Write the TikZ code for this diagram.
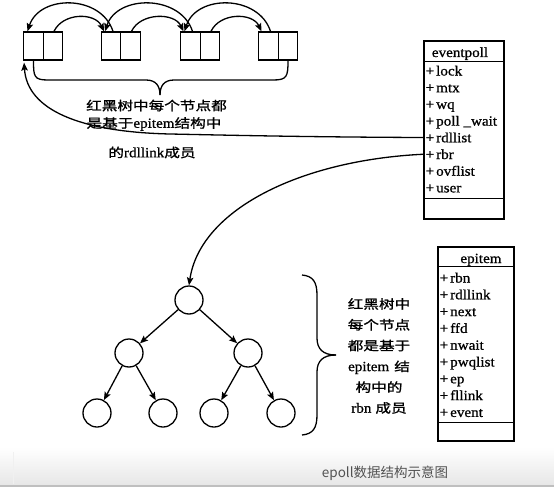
\documentclass[tikz,border=0pt]{standalone}
\usepackage{fontspec}
\setmainfont[FakeStretch=1.08,FakeBold=0.8]{Liberation Serif}
\newfontfamily\zhfont[FakeStretch=1.25,FakeBold=1.2]{Noto Sans CJK SC}
\newfontfamily\capfont{Noto Sans CJK SC}
\usetikzlibrary{arrows.meta,calc}
\begin{document}
\begin{tikzpicture}[x=1pt,y=-1pt,line width=1.3pt,
  cell/.style={draw,minimum width=19.5pt,minimum height=28pt,inner sep=0pt},
  tnode/.style={draw,circle,minimum size=28pt,inner sep=0pt},
  arr/.style={-{Stealth[length=8pt,width=6.5pt,inset=1.5pt]}},
  item/.style={anchor=base west,inner xsep=1pt,inner ysep=0.5pt,font=\fontsize{14}{14}\selectfont},
  ttl/.style={anchor=base,inner sep=1pt,font=\fontsize{14}{14}\selectfont},
  zh/.style={inner sep=1pt,font=\zhfont\fontsize{12.5}{14}\selectfont},
  structbox/.style={draw,inner sep=0pt}
]
\useasboundingbox (0,0) rectangle (554,487);
% bottom band
\shade[top color=white,bottom color=black!10] (0,447) rectangle (554,487);
\draw[black!25,line width=2pt] (0,486) -- (554,486);
\draw[black!6,line width=0.8pt] (13,452) -- (13,484);

% top list cells
\node[cell] (l1) at (33.5,46) {};
\node[cell] (r1) at (53,46) {};
\node[cell] (l2) at (111,46) {};
\node[cell] (r2) at (130.5,46) {};
\node[cell] (l3) at (190.5,46) {};
\node[cell] (r3) at (210,46) {};
\node[cell] (l4) at (268.5,46) {};
\node[cell] (r4) at (288,46) {};

% forward arcs
\draw[arr] ([xshift=1pt]r1.north) .. controls +(9,-19) and +(-9,-19) .. ([xshift=-7pt]l2.north);
\draw[arr] ([xshift=1pt]r2.north) .. controls +(9,-19) and +(-9,-19) .. ([xshift=-7pt]l3.north);
\draw[arr] ([xshift=1pt]r3.north) .. controls +(9,-19) and +(-9,-19) .. ([xshift=-7pt]l4.north);
% backward arcs
\draw[arr] ([xshift=2pt]l2.north) .. controls +(-12,-37) and +(12,-37) .. ([xshift=-6pt]l1.north);
\draw[arr] ([xshift=2pt]l3.north) .. controls +(-12,-37) and +(12,-37) .. ([xshift=-6pt]l2.north);
\draw[arr] ([xshift=2pt]l4.north) .. controls +(-12,-37) and +(12,-37) .. ([xshift=-6pt]l3.north);

% brace under list
\coordinate (bt) at (160,95);
\draw (l1.south) .. controls +(0,16) and +(-14,0) .. (48,80) -- (146,80) .. controls +(10,0) and +(0,-9) .. (bt);
\draw (r4.south) .. controls +(0,16) and +(14,0) .. (273,80) -- (174,80) .. controls +(-10,0) and +(0,-9) .. (bt);

% top text
\node[zh] (t1) at (156.5,105.5) {红黑树中每个节点都};
\node[zh] (t2) at (154,124) {是基于{\rmfamily\fontsize{14}{14}\selectfont epitem}结构中};
\node[zh] (t3) at (152,152.5) {的{\rmfamily\fontsize{14}{14}\selectfont rdllink}成员};

% eventpoll
\node[structbox,minimum width=80pt,minimum height=178pt] (ep) at (464,130) {};
\draw ($(ep.north west)+(0,21)$) -- ($(ep.north east)+(0,21)$);
\draw ($(ep.south west)+(0,-21)$) -- ($(ep.south east)+(0,-21)$);
\node[ttl] (eptitle) at (460,57) {eventpoll};
\node[item] (eplock) at (424,75.5) {+\hspace{2pt}lock};
\node[item] (epmtx) at (424,92.2) {+\hspace{2pt}mtx};
\node[item] (epwq) at (424,108.9) {+\hspace{2pt}wq};
\node[item] (eppw) at (424,125.6) {+\hspace{2pt}poll \_wait};
\node[item] (eprdl) at (424,142.3) {+\hspace{2pt}rdllist};
\node[item] (eprbr) at (424,159) {+\hspace{2pt}rbr};
\node[item] (epovf) at (424,175.7) {+\hspace{2pt}ovflist};
\node[item] (epuser) at (424,192.4) {+\hspace{2pt}user};

% epitem
\node[structbox,minimum width=76pt,minimum height=194pt] (ei) at (476,344) {};
\draw ($(ei.north west)+(0,20)$) -- ($(ei.north east)+(0,20)$);
\draw ($(ei.south west)+(0,-19)$) -- ($(ei.south east)+(0,-19)$);
\node[ttl] (eititle) at (481,263) {epitem};
\node[item] (eirbn) at (438,282.5) {+\hspace{2pt}rbn};
\node[item] (eirdl) at (438,299.3) {+\hspace{2pt}rdllink};
\node[item] (einext) at (438,316.1) {+\hspace{2pt}next};
\node[item] (eiffd) at (438,332.9) {+\hspace{2pt}ffd};
\node[item] (einw) at (438,349.7) {+\hspace{2pt}nwait};
\node[item] (eipwq) at (438,366.5) {+\hspace{2pt}pwqlist};
\node[item] (eiep) at (438,383.3) {+\hspace{2pt}ep};
\node[item] (eifl) at (438,400.1) {+\hspace{2pt}fllink};
\node[item] (eiev) at (438,416.9) {+\hspace{2pt}event};

% tree
\node[tnode] (root) at (189,300) {};
\node[tnode] (a) at (129,353) {};
\node[tnode] (b) at (248,353) {};
\node[tnode] (a1) at (97,413) {};
\node[tnode] (a2) at (163,413) {};
\node[tnode] (b1) at (214,413) {};
\node[tnode] (b2) at (281,413) {};
\draw[arr] (root) -- (a);
\draw[arr] (root) -- (b);
\draw[arr] (a) -- (a1);
\draw[arr] (a) -- (a2);
\draw[arr] (b) -- (b1);
\draw[arr] (b) -- (b2);

% connectors from eventpoll
\draw[arr] (eprdl.west) .. controls (300,137) and (220,135) .. (170,134) .. controls (80,132) and (27,110) .. ([shift={(1,2)}]l1.south west);
\draw[arr] (eprbr.west) .. controls (300,160) and (200,210) .. (root.north);

% right brace
\coordinate (rt) at (336,355);
\draw (302,275) .. controls (313,276) and (317,282) .. (317,295) -- (317,338) .. controls (317,349) and (323,355) .. (rt);
\draw (302,435) .. controls (313,434) and (317,428) .. (317,415) -- (317,372) .. controls (317,361) and (323,355) .. (rt);

% right text
\node[zh,align=center,font=\zhfont\fontsize{12.5}{20.8}\selectfont] (rtext) at (379,356) {红黑树中\\每个节点\\都是基于\\{\rmfamily\fontsize{14}{14}\selectfont epitem}\hspace{5pt}结\\构中的\\{\rmfamily\fontsize{14}{14}\selectfont rbn}\hspace{4pt}成员};

% caption
\node[font=\capfont\fontsize{13.5}{14}\selectfont,text=black!68] (cap) at (385,473) {epoll数据结构示意图};
\end{tikzpicture}
\end{document}
